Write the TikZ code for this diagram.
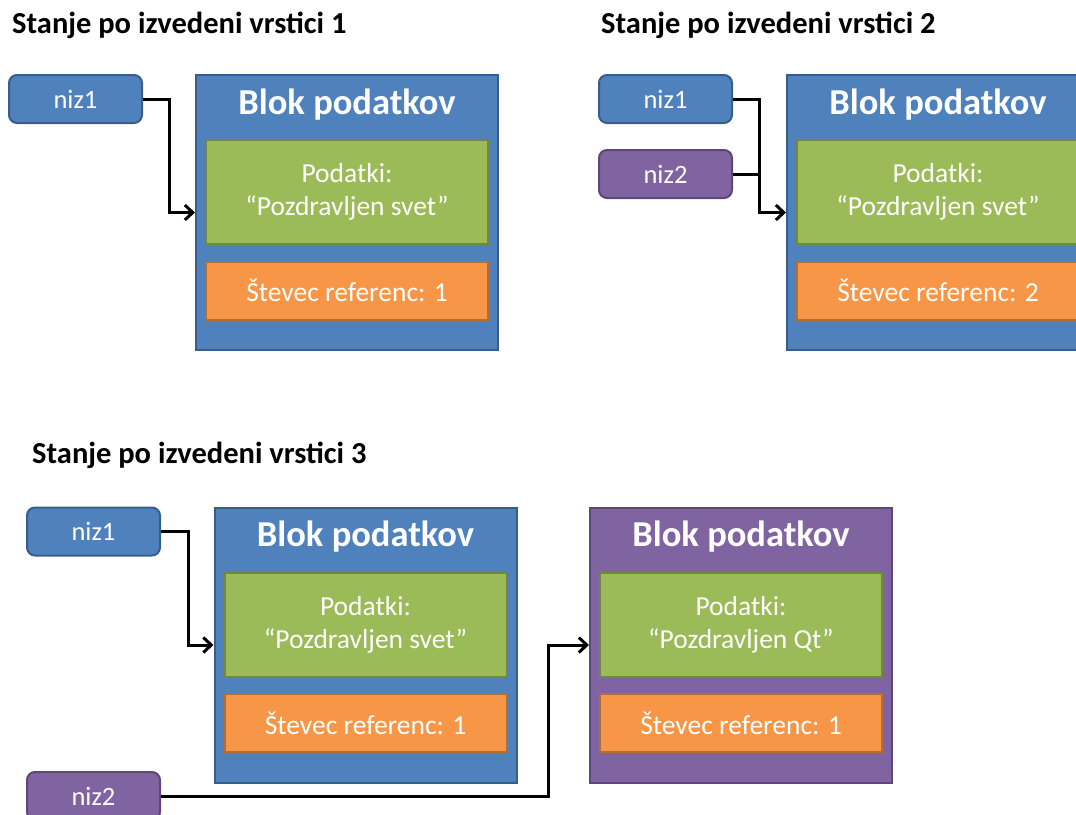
\documentclass[tikz,border=0pt]{standalone}
\usepackage{fontspec}
\setmainfont{Carlito}
\usepackage{tikz}
\usetikzlibrary{arrows.meta, positioning, calc}

\definecolor{nizblue}{HTML}{4F81BD}
\definecolor{nizblueline}{HTML}{385D8A}
\definecolor{nizpurple}{HTML}{8064A2}
\definecolor{nizpurpleline}{HTML}{5C4776}
\definecolor{datagreen}{HTML}{9BBB59}
\definecolor{datagreenline}{HTML}{71893F}
\definecolor{cntorange}{HTML}{F79646}
\definecolor{cntorangeline}{HTML}{B66D31}

\begin{document}
\begin{tikzpicture}[
        x=1pt, y=-1pt,
        stanje/.style={anchor=base west, inner sep=0pt, font=\fontsize{30.5}{36}\selectfont\bfseries},
        niz/.style={rectangle, rounded corners=8pt, draw=nizblueline, fill=nizblue, line width=2pt, minimum width=133pt, minimum height=48pt, text=white, font=\fontsize{26.5}{32}\selectfont},
        blok/.style={rectangle, draw=nizblueline, fill=nizblue, line width=2pt, minimum width=302pt, minimum height=275pt, inner sep=0pt},
        bloknaslov/.style={anchor=base, inner sep=0pt, text=white, font=\fontsize{36.5}{40}\selectfont\bfseries},
        podatki/.style={rectangle, draw=datagreenline, fill=datagreen, line width=2pt, minimum width=282pt, minimum height=104pt, align=center, text=white, font=\fontsize{27.5}{33}\selectfont},
        stevec/.style={rectangle, draw=cntorangeline, fill=cntorange, line width=2pt, minimum width=282pt, minimum height=58pt, text=white, font=\fontsize{27.5}{33}\selectfont},
        arrow/.style={-{Straight Barb[length=8pt,width=15pt]}, line width=3pt},
        link/.style={line width=3pt}
    ]
        \useasboundingbox (0,0) rectangle (1076,814);
        \clip (0,0) rectangle (1076,814);

        % Stanje 1
        \node[stanje] (s1) at (12,33) {Stanje po izvedeni vrstici 1};
        \node[niz] (n1a) at (75.5,99) {niz1};
        \node[blok] (b1) at (347,212.5) {};
        \node[bloknaslov] (t1) at ($(b1.north)+(0,40)$) {Blok podatkov};
        \node[podatki] (p1) at ($(b1.north)+(0,118)$) {Podatki:\\“Pozdravljen svet”};
        \node[stevec] (c1) at ($(b1.north)+(0,216.5)$) {Števec referenc: 1};
        \draw[arrow] (n1a.east) -- ++(26,0) |- (b1.west);

        % Stanje 2
        \node[stanje] (s2) at (601,33) {Stanje po izvedeni vrstici 2};
        \node[niz] (n1b) at (665.5,99) {niz1};
        \node[niz, draw=nizpurpleline, fill=nizpurple] (n2b) at (665.5,174) {niz2};
        \node[blok] (b2) at (938,212.5) {};
        \node[bloknaslov] (t2) at ($(b2.north)+(0,40)$) {Blok podatkov};
        \node[podatki] (p2) at ($(b2.north)+(0,118)$) {Podatki:\\“Pozdravljen svet”};
        \node[stevec] (c2) at ($(b2.north)+(0,216.5)$) {Števec referenc: 2};
        \draw[arrow] (n1b.east) -- ++(26,0) |- (b2.west);
        \draw[link] (n2b.east) -- ++(27.5,0);

        % Stanje 3
        \node[stanje] (s3) at (32,463) {Stanje po izvedeni vrstici 3};
        \node[niz] (n1c) at (93.5,531.5) {niz1};
        \node[niz, draw=nizpurpleline, fill=nizpurple] (n2c) at (93.5,796) {niz2};
        \node[blok] (b3) at (365.5,645) {};
        \node[bloknaslov] (t3) at ($(b3.north)+(0,40)$) {Blok podatkov};
        \node[podatki] (p3) at ($(b3.north)+(0,118)$) {Podatki:\\“Pozdravljen svet”};
        \node[stevec] (c3) at ($(b3.north)+(0,216.5)$) {Števec referenc: 1};
        \node[blok, draw=nizpurpleline, fill=nizpurple] (b4) at (741,645) {};
        \node[bloknaslov] (t4) at ($(b4.north)+(0,40)$) {Blok podatkov};
        \node[podatki] (p4) at ($(b4.north)+(0,118)$) {Podatki:\\“Pozdravljen Qt”};
        \node[stevec] (c4) at ($(b4.north)+(0,216.5)$) {Števec referenc: 1};
        \draw[arrow] (n1c.east) -- ++(27,0) |- (b3.west);
        \draw[arrow] (n2c.east) -| ([xshift=-41pt]b4.west) -- (b4.west);

    \end{tikzpicture}
\end{document}
